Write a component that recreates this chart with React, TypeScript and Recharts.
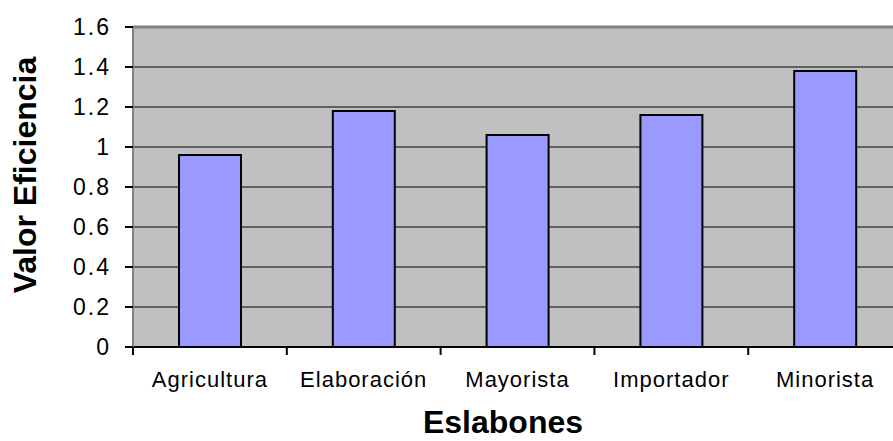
import React from "react";
import {
  BarChart,
  Bar,
  XAxis,
  YAxis,
  CartesianGrid,
  ReferenceLine,
  Label,
} from "recharts";

const categories = ["Agricultura", "Elaboración", "Mayorista", "Importador", "Minorista"];
const values = [0.96, 1.18, 1.06, 1.16, 1.38];
const yTicks = [0, 0.2, 0.4, 0.6, 0.8, 1, 1.2, 1.4, 1.6];
const xTitle = "Eslabones";
const yTitle = "Valor Eficiencia";

const data = categories.map((c, i) => ({ name: c, value: values[i] }));

const FONT = "'Liberation Sans', Arial, sans-serif";

const XTick = (props: any) => {
  const { x, y, payload } = props;
  const off = payload.offset || 0;
  return (
    <g>
      <line x1={x - off} y1={y} x2={x - off} y2={y + 8} stroke="#000" strokeWidth={2} />
      <text
        x={x}
        y={y + 40}
        textAnchor="middle"
        fontFamily={FONT}
        fontSize={22}
        letterSpacing={1}
        fill="#000"
      >
        {payload.value}
      </text>
    </g>
  );
};

const YTick = (props: any) => {
  const { x, y, payload } = props;
  return (
    <text
      x={x + 2}
      y={y}
      textAnchor="end"
      dominantBaseline="central"
      fontFamily={FONT}
      fontSize={23}
      letterSpacing={2}
      fill="#000"
    >
      {String(payload.value)}
    </text>
  );
};

export default function App() {
  return (
    <div
      style={{
        position: "absolute",
        left: 0,
        top: 0,
        width: 893,
        height: 441,
        overflow: "hidden",
        background: "#fff",
      }}
    >
      <BarChart
        width={902}
        height={441}
        data={data}
        margin={{ top: 27, right: 0, left: 0, bottom: 0 }}
        barSize={62}
      >
        <CartesianGrid
          vertical={false}
          horizontal={true}
          stroke="#000"
          strokeWidth={1.2}
          fill="#C0C0C0"
          fillOpacity={1}
        />
        <XAxis
          dataKey="name"
          height={94}
          tickSize={0}
          tickMargin={0}
          tickLine={false}
          axisLine={{ stroke: "#000", strokeWidth: 2 }}
          tick={<XTick />}
          interval={0}
          label={
            <Label
              content={() => (
                <text
                  x={503}
                  y={433}
                  textAnchor="middle"
                  fontFamily={FONT}
                  fontSize={32}
                  fontWeight="bold"
                  fill="#000"
                >
                  {xTitle}
                </text>
              )}
            />
          }
        />
        <YAxis
          width={133}
          domain={[0, 1.6]}
          ticks={yTicks}
          interval={0}
          tickSize={8}
          tickMargin={16}
          tickLine={{ stroke: "#000", strokeWidth: 2 }}
          axisLine={{ stroke: "#808080", strokeWidth: 2 }}
          tick={<YTick />}
          label={
            <Label
              content={() => (
                <text
                  x={25}
                  y={175}
                  transform="rotate(-90, 25, 175)"
                  textAnchor="middle"
                  dominantBaseline="central"
                  fontFamily={FONT}
                  fontSize={32}
                  fontWeight="bold"
                  fill="#000"
                >
                  {yTitle}
                </text>
              )}
            />
          }
        />
        <ReferenceLine y={1.6} stroke="#808080" strokeWidth={3} />
        <Bar
          dataKey="value"
          fill="#9999FF"
          stroke="#000"
          strokeWidth={2}
          isAnimationActive={false}
        />
      </BarChart>
    </div>
  );
}
